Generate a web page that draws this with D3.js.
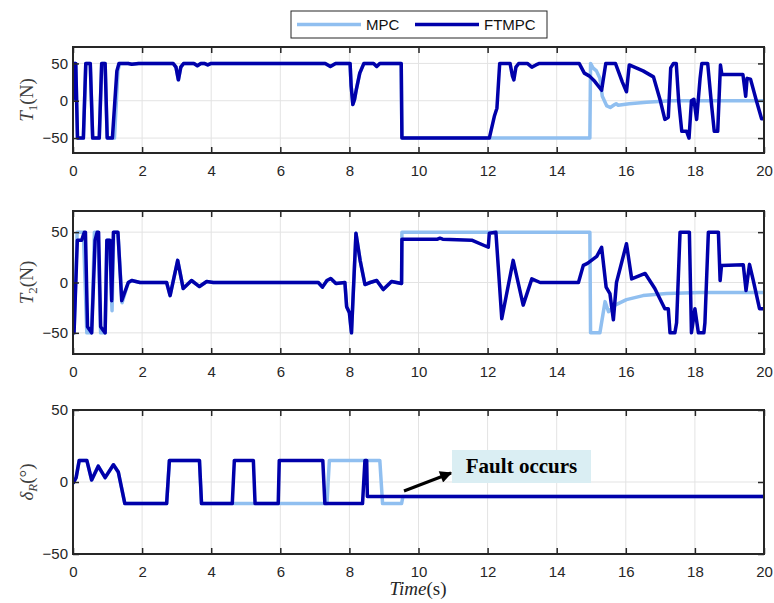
<!DOCTYPE html>
<html>
  <head>
    <meta charset="utf-8">
    <title>MPC vs FTMPC</title>
    <script src="https://d3js.org/d3.v7.min.js"></script>
    <style>
      body { margin: 0; background: #fff; }
      text { font-family: "Liberation Sans", Arial, sans-serif; }
      .math { font-family: "Liberation Serif", "Times New Roman", serif; }
    </style>
  </head>
  <body>
    <script>
      // time ticks shared by all three panels
      var xTicks = [0, 2, 4, 6, 8, 10, 12, 14, 16, 18, 20];

      // T1 (N)
      var mpcT1 = [[0,0],[0.03,50],[0.08,50],[0.13,-50],[0.3,-50],[0.37,50],[0.5,50],[0.57,-50],[0.76,-50],[0.83,50],[0.93,50],[0.99,-50],[1.2,-50],[1.3,40],[1.35,50],[1.6,50],[1.7,49],[1.9,50],[2.9,50],[2.98,45],[3.05,28],[3.12,45],[3.2,50],[3.5,50],[3.6,47],[3.7,50],[3.8,50],[3.9,48],[4,50],[7.3,50],[7.45,46],[7.6,50],[8.02,50],[8.05,20],[8.1,-5],[8.15,2],[8.2,15],[8.3,37],[8.42,50],[8.7,50],[8.79,46],[8.88,50],[9.5,50],[9.52,-50],[14.96,-50],[14.98,50],[15.05,44],[15.15,40],[15.25,30],[15.32,6],[15.45,-7],[15.55,-9],[15.68,-5],[15.72,-4],[15.78,-6],[16.1,-4],[16.6,-2],[17.3,0],[20,0]];
      var ftmpcT1 = [[0,0],[0.03,50],[0.08,50],[0.13,-50],[0.3,-50],[0.37,50],[0.5,50],[0.57,-50],[0.76,-50],[0.83,50],[0.93,50],[0.99,-50],[1.14,-50],[1.27,40],[1.33,50],[1.6,50],[1.7,49],[1.9,50],[2.9,50],[2.98,45],[3.05,28],[3.12,45],[3.2,50],[3.5,50],[3.6,47],[3.7,50],[3.8,50],[3.9,48],[4,50],[7.3,50],[7.45,46],[7.6,50],[8.02,50],[8.05,20],[8.1,-5],[8.15,2],[8.2,15],[8.3,37],[8.42,50],[8.7,50],[8.79,46],[8.88,50],[9.5,50],[9.52,-50],[12.05,-50],[12.2,-20],[12.27,-10],[12.35,50],[12.65,50],[12.72,33],[12.76,28],[12.82,45],[12.9,50],[13.15,50],[13.28,45],[13.4,48],[13.5,50],[14.65,50],[14.8,37],[14.95,33],[15.1,26],[15.25,17],[15.3,14],[15.42,50],[15.7,50],[15.9,25],[16.02,12],[16.1,48],[16.2,46],[16.5,40],[16.8,32],[17.0,0],[17.13,-25],[17.23,-22],[17.3,44],[17.38,50],[17.46,50],[17.53,0],[17.62,-41],[17.76,-41],[17.83,-50],[17.9,0],[17.97,2],[18.05,-25],[18.15,30],[18.2,50],[18.37,50],[18.47,0],[18.56,-41],[18.66,-41],[18.74,48],[18.78,35],[19.39,35],[19.47,6],[19.51,30],[19.61,29],[19.78,0],[19.93,-24],[20,-24]];

      // T2 (N)
      var mpcT2 = [[0,0],[0.03,-50],[0.12,50],[0.3,50],[0.4,-50],[0.54,-50],[0.62,50],[0.72,50],[0.8,-50],[0.93,-50],[0.98,42],[1.05,42],[1.13,-28],[1.18,50],[1.3,50],[1.42,-20],[1.6,0],[1.7,2],[1.94,0],[2.71,0],[2.81,-13],[3.03,22],[3.19,-6],[3.43,2],[3.66,-4],[3.87,1],[4.06,0],[7.1,0],[7.22,-4.6],[7.35,2],[7.46,4],[7.61,-1],[7.87,0],[7.92,-24],[8.0,-30],[8.06,-50],[8.19,49],[8.31,22],[8.45,-2],[8.6,0],[8.79,2],[8.98,-7],[9.22,1],[9.51,-1],[9.52,50],[14.96,50],[14.98,-50],[15.25,-50],[15.4,-19],[15.5,-29],[15.69,-22.5],[16.02,-17],[16.5,-13],[17.18,-11],[18.15,-10],[20,-10]];
      var ftmpcT2 = [[0,0],[0.03,-50],[0.125,42],[0.25,42],[0.33,50],[0.36,50],[0.42,-44],[0.54,-50],[0.64,42],[0.7,50],[0.74,50],[0.8,-44],[0.93,-50],[0.98,42],[1.07,42],[1.12,-18],[1.17,50],[1.3,50],[1.41,-18],[1.6,0],[1.7,2],[1.94,0],[2.71,0],[2.81,-13],[3.03,22],[3.19,-6],[3.43,2],[3.66,-4],[3.87,1],[4.06,0],[7.1,0],[7.22,-4.6],[7.35,2],[7.46,4],[7.61,-1],[7.87,0],[7.92,-24],[8.0,-30],[8.06,-50],[8.19,49],[8.31,22],[8.45,-2],[8.6,0],[8.79,2],[8.98,-7],[9.22,1],[9.51,-1],[9.52,43],[10.55,43],[10.62,44],[10.7,43],[11.54,42],[12.02,35],[12.05,49],[12.24,50],[12.31,15],[12.41,-36],[12.74,22],[13.03,-22.5],[13.28,3.6],[13.52,0],[14.63,0],[14.77,17],[14.89,19],[15.16,26],[15.3,35],[15.43,-4.5],[15.54,-11],[15.64,-37],[15.73,0],[16.02,38.5],[16.17,3.6],[16.56,9],[16.84,-6],[17.13,-26],[17.23,-26],[17.28,-50],[17.42,-50],[17.47,-40],[17.57,50],[17.84,50],[17.9,-50],[18.0,-26],[18.1,-50],[18.26,-50],[18.29,-40],[18.39,50],[18.68,50],[18.73,2],[18.77,17],[19.4,17.6],[19.48,-8],[19.58,18],[19.69,2],[19.87,-26],[20,-26]];

      // delta_R (deg)
      var mpcDelta = [[0,-1],[0.09,3],[0.18,15],[0.4,15],[0.54,1.4],[0.73,11],[0.93,3],[1.17,12],[1.31,7],[1.5,-15],[2.71,-15],[2.79,15],[3.66,15],[3.72,-15],[7.35,-15],[7.42,15],[8.88,15],[8.96,-15],[9.51,-15],[9.55,-10],[20,-10]];
      var ftmpcDelta = [[0,-1],[0.09,3],[0.18,15],[0.4,15],[0.54,1.4],[0.73,11],[0.93,3],[1.17,12],[1.31,7],[1.5,-15],[2.71,-15],[2.79,15],[3.66,15],[3.72,-15],[4.61,-15],[4.67,15],[5.22,15],[5.27,-15],[5.94,-15],[5.97,15],[7.23,15],[7.29,-15],[8.38,-15],[8.45,15],[8.5,15],[8.52,-10],[20,-10]];

      var seriesNames = ["MPC", "FTMPC"];
      var mpcColor = "#90bff0", ftmpcColor = "#0000aa";

      var width = 774, height = 603;
      var left = 73, right = 764;

      var svg = d3.select("body").append("svg")
        .attr("width", width)
        .attr("height", height);

      var x = d3.scaleLinear().domain([0, 20]).range([left, right]);

      var panels = [
        { top: 47, bottom: 153, domain: [-70, 72], ticks: [-50, 0, 50], mpc: mpcT1, ftmpc: ftmpcT1, label: "T1" },
        { top: 211, bottom: 354, domain: [-71, 71], ticks: [-50, 0, 50], mpc: mpcT2, ftmpc: ftmpcT2, label: "T2" },
        { top: 410, bottom: 554, domain: [-50, 50], ticks: [-50, 0, 50], mpc: mpcDelta, ftmpc: ftmpcDelta, label: "dR" }
      ];

      panels.forEach(function(p, i) {
        var y = d3.scaleLinear().domain(p.domain).range([p.bottom, p.top]);
        var g = svg.append("g");

        // grid
        g.selectAll(".gx").data(xTicks).enter().append("line")
          .attr("x1", function(d) { return x(d); }).attr("x2", function(d) { return x(d); })
          .attr("y1", p.top).attr("y2", p.bottom)
          .attr("stroke", "#e3e3e3").attr("stroke-width", 1);
        g.selectAll(".gy").data(p.ticks).enter().append("line")
          .attr("x1", left).attr("x2", right)
          .attr("y1", function(d) { return y(d); }).attr("y2", function(d) { return y(d); })
          .attr("stroke", "#e3e3e3").attr("stroke-width", 1);

        svg.append("clipPath").attr("id", "clip" + i).append("rect")
          .attr("x", left).attr("y", p.top).attr("width", right - left).attr("height", p.bottom - p.top);

        var line = d3.line()
          .x(function(d) { return x(d[0]); })
          .y(function(d) { return y(d[1]); });

        g.append("path").datum(p.mpc)
          .attr("d", line).attr("fill", "none")
          .attr("stroke", mpcColor).attr("stroke-width", 3.5)
          .attr("stroke-linejoin", "round")
          .attr("clip-path", "url(#clip" + i + ")");
        g.append("path").datum(p.ftmpc)
          .attr("d", line).attr("fill", "none")
          .attr("stroke", ftmpcColor).attr("stroke-width", 3.5)
          .attr("stroke-linejoin", "round")
          .attr("clip-path", "url(#clip" + i + ")");

        // axes (box with inward ticks)
        var xb = d3.axisBottom(x).tickValues(xTicks).tickSizeInner(-6).tickSizeOuter(0).tickPadding(12);
        var xt = d3.axisTop(x).tickValues(xTicks).tickSizeInner(-6).tickSizeOuter(0).tickFormat("");
        var yl = d3.axisLeft(y).tickValues(p.ticks).tickSizeInner(-6).tickSizeOuter(0).tickPadding(5);
        var yr = d3.axisRight(y).tickValues(p.ticks).tickSizeInner(-6).tickSizeOuter(0).tickFormat("");

        [
          g.append("g").attr("transform", "translate(0," + p.bottom + ")").call(xb),
          g.append("g").attr("transform", "translate(0," + p.top + ")").call(xt),
          g.append("g").attr("transform", "translate(" + left + ",0)").call(yl),
          g.append("g").attr("transform", "translate(" + right + ",0)").call(yr)
        ].forEach(function(a) {
          a.select(".domain").remove();
          a.selectAll("line").attr("stroke", "#262626").attr("stroke-width", 1.5);
          a.selectAll("text").attr("fill", "#262626").style("font-size", "15px")
            .style("font-family", "Liberation Sans, Arial, sans-serif");
        });

        g.append("rect")
          .attr("x", left).attr("y", p.top)
          .attr("width", right - left).attr("height", p.bottom - p.top)
          .attr("fill", "none").attr("stroke", "#262626").attr("stroke-width", 2);

        // y label
        var cy = (p.top + p.bottom) / 2;
        var lab = svg.append("text").attr("class", "math")
          .attr("transform", "translate(33," + cy + ") rotate(-90)")
          .attr("text-anchor", "middle")
          .attr("fill", "#404040")
          .style("font-size", "19px");
        if (p.label == "dR") {
          lab.append("tspan").style("font-style", "italic").text("δ");
          lab.append("tspan").style("font-style", "italic").style("font-size", "13px").attr("dy", 4).text("R");
          lab.append("tspan").attr("dy", -4).text("(°)");
        } else {
          lab.append("tspan").style("font-style", "italic").text("T");
          lab.append("tspan").style("font-size", "13px").attr("dy", 4).text(p.label.slice(1));
          lab.append("tspan").attr("dy", -4).text("(N)");
        }
      });

      // x label
      var xl = svg.append("text").attr("class", "math")
        .attr("x", 418).attr("y", 595)
        .attr("text-anchor", "middle")
        .attr("fill", "#262626")
        .style("font-size", "19px");
      xl.append("tspan").style("font-style", "italic").text("Time");
      xl.append("tspan").text("(s)");

      // legend
      var lg = svg.append("g");
      lg.append("rect").attr("x", 291).attr("y", 11).attr("width", 256).attr("height", 27)
        .attr("fill", "#fff").attr("stroke", "#262626").attr("stroke-width", 1);
      var legX = [297, 415];
      seriesNames.forEach(function(name, i) {
        lg.append("line").attr("x1", legX[i]).attr("x2", legX[i] + 64)
          .attr("y1", 24.5).attr("y2", 24.5)
          .attr("stroke", i == 0 ? mpcColor : ftmpcColor).attr("stroke-width", 3.5);
        lg.append("text").attr("x", legX[i] + 69).attr("y", 30)
          .attr("fill", "#111").style("font-size", "15px").text(name);
      });

      // annotation
      svg.append("defs").append("marker")
        .attr("id", "arrow").attr("viewBox", "0 0 10 10")
        .attr("refX", 9).attr("refY", 5)
        .attr("markerWidth", 5).attr("markerHeight", 4)
        .attr("markerUnits", "strokeWidth")
        .attr("orient", "auto")
        .append("path").attr("d", "M0,0 L10,5 L0,10 z").attr("fill", "#000");
      svg.append("line")
        .attr("x1", 404).attr("y1", 491).attr("x2", 451).attr("y2", 473)
        .attr("stroke", "#000").attr("stroke-width", 3)
        .attr("marker-end", "url(#arrow)");
      svg.append("rect").attr("x", 452).attr("y", 450).attr("width", 139).attr("height", 33)
        .attr("fill", "#daeef3");
      svg.append("text").attr("class", "math")
        .attr("x", 521.5).attr("y", 473)
        .attr("text-anchor", "middle")
        .style("font-size", "21px").style("font-weight", "bold")
        .attr("fill", "#000")
        .text("Fault occurs");
    </script>
  </body>
</html>
